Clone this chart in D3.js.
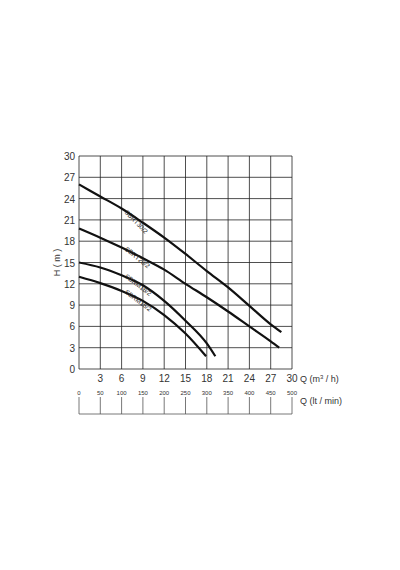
<!DOCTYPE html>
<html><head><meta charset="utf-8">
<script src="https://cdn.jsdelivr.net/npm/d3@7"></script>
<style>body{margin:0;background:#fff}text{font-family:Arial,"Liberation Sans",sans-serif}</style>
</head><body><svg id="chart" width="400" height="570"></svg>
<script>
const flowTicks = [0, 3, 6, 9, 12, 15, 18, 21, 24, 27, 30];
const headTicks = [0, 3, 6, 9, 12, 15, 18, 21, 24, 27, 30];
const litreLabels = ['0', '50', '100', '150', '200', '250', '300', '350', '400', '450', '500'];
const seriesNames = ['SBRT30/2', 'SBRT20/2', 'SBRM18/2', 'SBRM15/2'];
const sbrt30 = [[0,26],[3,24.3],[6,22.6],[9,20.6],[12,18.5],[15,16.2],[18,13.8],[21,11.5],[24,8.9],[27,6.3],[28.5,5.2]];
const sbrt20 = [[0,19.8],[3,18.5],[6,17.1],[9,15.6],[12,14],[15,12],[18,10.1],[21,8.1],[24,6],[27,3.9],[28.2,3]];
const sbrm18 = [[0,15],[3,14.3],[6,13.2],[9,11.8],[12,9.6],[15,6.8],[18,3.6],[19.2,1.8]];
const sbrm15 = [[0,13],[3,12.1],[6,11],[9,9.6],[12,7.6],[15,5],[17.9,1.8]];
const labelAt = [7.5, 7.5, 7.5, 7.5];

const svg = d3.select('#chart');
const x = d3.scaleLinear().domain([0, 30]).range([79, 292]);
const y = d3.scaleLinear().domain([0, 30]).range([369, 156]);

// grid
svg.append('g').selectAll('line').data(flowTicks).join('line')
  .attr('x1', d => x(d)).attr('x2', d => x(d)).attr('y1', y(0)).attr('y2', y(30))
  .attr('stroke', '#222').attr('stroke-width', 0.8);
svg.append('g').selectAll('line').data(headTicks).join('line')
  .attr('x1', x(0)).attr('x2', x(30)).attr('y1', d => y(d)).attr('y2', d => y(d))
  .attr('stroke', '#222').attr('stroke-width', 0.8);

// axes labels
svg.append('g').selectAll('text').data(headTicks).join('text')
  .attr('x', x(0) - 4).attr('y', d => y(d) + 4).attr('text-anchor', 'end')
  .attr('font-size', 10).attr('fill', '#333').text(d => d);
svg.append('g').selectAll('text').data(flowTicks.slice(1)).join('text')
  .attr('x', d => x(d)).attr('y', y(0) + 13).attr('text-anchor', 'middle')
  .attr('font-size', 10).attr('fill', '#333').text(d => d);
svg.append('text').attr('transform', `translate(60,${y(15)}) rotate(-90)`)
  .attr('text-anchor', 'middle').attr('font-size', 9).attr('fill', '#333').text('H ( m )');
const q1 = svg.append('text').attr('x', 300).attr('y', y(0) + 13).attr('font-size', 9).attr('fill', '#333');
q1.append('tspan').text('Q (m');
q1.append('tspan').attr('font-size', 6).attr('dy', -3).text('3');
q1.append('tspan').attr('dy', 3).text(' / h)');

// litre/min axis
const base = 414;
svg.append('line').attr('x1', x(0)).attr('x2', x(30)).attr('y1', base).attr('y2', base)
  .attr('stroke', '#555').attr('stroke-width', 0.8);
svg.append('g').selectAll('line').data(flowTicks).join('line')
  .attr('x1', d => x(d)).attr('x2', d => x(d)).attr('y1', 397).attr('y2', base)
  .attr('stroke', '#555').attr('stroke-width', 0.8);
svg.append('g').selectAll('text').data(flowTicks).join('text')
  .attr('x', d => x(d)).attr('y', 395).attr('text-anchor', 'middle')
  .attr('font-size', 6).attr('fill', '#333').text((d, i) => litreLabels[i]);
svg.append('text').attr('x', 300).attr('y', 404).attr('font-size', 9).attr('fill', '#333').text('Q (lt / min)');

// curves
const line = d3.line().x(d => x(d[0])).y(d => y(d[1])).curve(d3.curveMonotoneX);
const all = [sbrt30, sbrt20, sbrm18, sbrm15];
svg.append('g').selectAll('path').data(all).join('path')
  .attr('d', line).attr('fill', 'none').attr('stroke', '#111').attr('stroke-width', 2.2);

all.forEach((s, i) => {
  const k = labelAt[i];
  const j = s.findIndex(p => p[0] > k);
  const a = s[j - 1], b = s[j];
  const t = (k - a[0]) / (b[0] - a[0]);
  const px = x(k), py = y(a[1] + t * (b[1] - a[1]));
  const ang = Math.atan2(y(b[1]) - y(a[1]), x(b[0]) - x(a[0])) * 180 / Math.PI + 12;
  svg.append('text').attr('transform', `translate(${px - 8},${py - 3}) rotate(${ang})`)
    .attr('font-size', 6.5).attr('fill', '#222').text(seriesNames[i]);
});
</script></body></html>
